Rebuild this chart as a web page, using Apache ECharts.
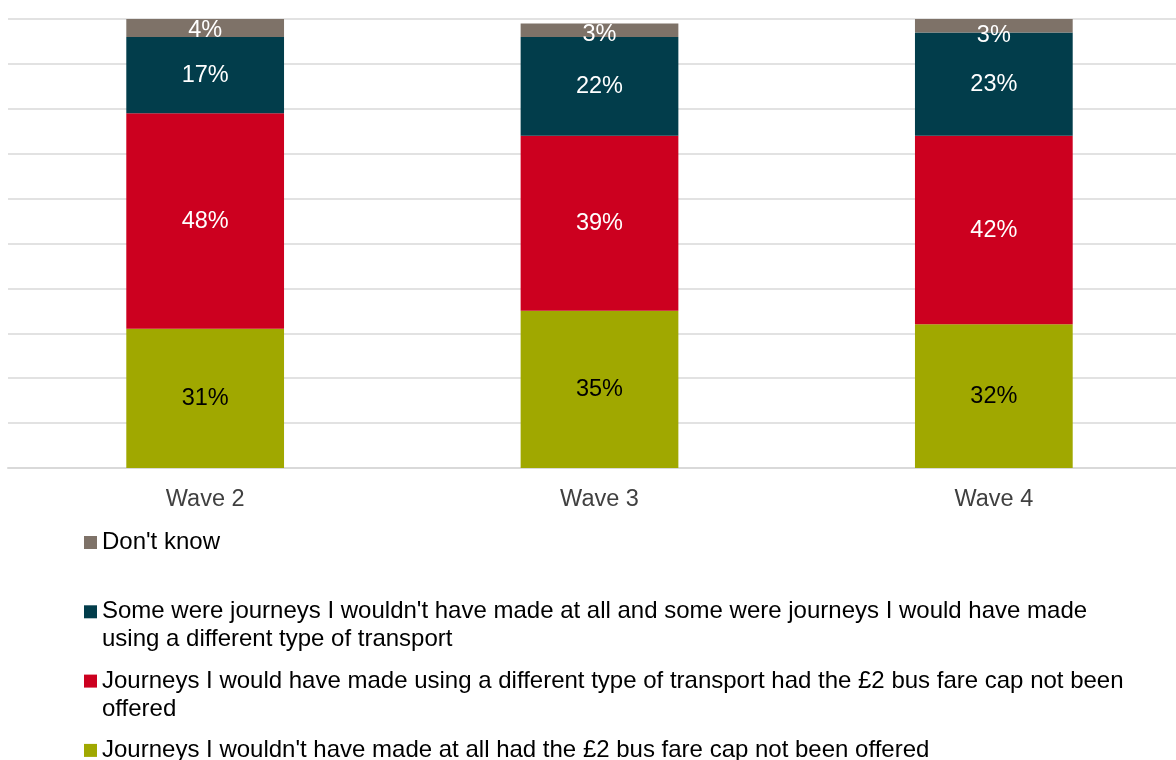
<!DOCTYPE html>
<html>
<head>
<meta charset="utf-8">
<script src="https://cdn.jsdelivr.net/npm/echarts@6/dist/echarts.min.js"></script>
<style>
  html, body { margin: 0; padding: 0; background: #ffffff; overflow: hidden; }
  /* the plot runs a little past the right edge of the page */
  #chart { width: 1191px; height: 760px; }
</style>
</head>
<body>
<div id="chart"></div>
<script>
// Survey waves along the x axis
const waves = ['Wave 2', 'Wave 3', 'Wave 4'];

// Response shares (%), one array per answer, bottom of the stack first
const notAtAll = [31, 35, 32];
const differentTransport = [48, 39, 42];
const mixed = [17, 22, 23];
const dontKnow = [4, 3, 3];

// Series names, in legend order
const nameDontKnow = "Don't know";
const nameMixed = "Some were journeys I wouldn't have made at all and some were journeys I would have made using a different type of transport";
const nameDifferent = "Journeys I would have made using a different type of transport had the £2 bus fare cap not been offered";
const nameNotAtAll = "Journeys I wouldn't have made at all had the £2 bus fare cap not been offered";

// Legend text, three lines each so the first line sits level with the swatch
const legendText = {};
legendText[nameDontKnow] = " \nDon't know\n ";
legendText[nameMixed] = " \nSome were journeys I wouldn't have made at all and some were journeys I would have made\nusing a different type of transport";
legendText[nameDifferent] = " \nJourneys I would have made using a different type of transport had the £2 bus fare cap not been\noffered";
legendText[nameNotAtAll] = " \nJourneys I wouldn't have made at all had the £2 bus fare cap not been offered\n ";

const FONT = '"Liberation Sans", Arial, sans-serif';
const FS = 23.5;

// small top segments: nudge their labels down a little
const dontKnowLabelShift = [3, 4, 10];

function barSeries(name, values, color, labelColor) {
  return {
    name: name,
    type: 'bar',
    stack: 'total',
    barWidth: '40%',
    itemStyle: { color: color },
    label: {
      show: true,
      position: 'inside',
      color: labelColor,
      fontFamily: FONT,
      fontSize: FS,
      formatter: '{c}%'
    },
    data: values.slice()
  };
}

const sNotAtAll = barSeries(nameNotAtAll, notAtAll, '#a0a800', '#000000');
const sDifferent = barSeries(nameDifferent, differentTransport, '#cc001f', '#ffffff');
const sMixed = barSeries(nameMixed, mixed, '#023d4b', '#ffffff');
const sDontKnow = barSeries(nameDontKnow, dontKnow, '#7e7268', '#ffffff');
sDontKnow.data = dontKnow.map((v, i) => ({ value: v, label: { offset: [0, dontKnowLabelShift[i]] } }));

const chart = echarts.init(document.getElementById('chart'), null, { renderer: 'canvas' });
chart.setOption({
  animation: false,
  backgroundColor: '#ffffff',
  textStyle: { fontFamily: FONT },
  grid: { left: 8, right: 0, top: 19, height: 449, containLabel: false },
  xAxis: {
    type: 'category',
    data: waves,
    axisTick: { show: false },
    axisLine: { show: true, lineStyle: { color: '#d9d9d9', width: 2 } },
    axisLabel: { color: '#404040', fontFamily: FONT, fontSize: FS, margin: 20 }
  },
  yAxis: {
    type: 'value',
    min: 0,
    max: 100,
    interval: 10,
    axisLabel: { show: false },
    axisLine: { show: false },
    axisTick: { show: false },
    splitLine: { show: true, lineStyle: { color: '#d9d9d9', width: 1.5 } }
  },
  legend: {
    orient: 'vertical',
    left: 84,
    top: 499,
    height: 400,
    padding: 0,
    itemWidth: 13,
    itemHeight: 13,
    itemGap: -17.7,
    icon: 'rect',
    data: [nameDontKnow, nameMixed, nameDifferent, nameNotAtAll],
    formatter: (name) => legendText[name],
    textStyle: {
      color: '#000000',
      fontFamily: FONT,
      fontSize: 24,
      lineHeight: 28,
      padding: [3, 0, 0, 0]
    }
  },
  series: [sNotAtAll, sDifferent, sMixed, sDontKnow]
});
</script>
</body>
</html>
